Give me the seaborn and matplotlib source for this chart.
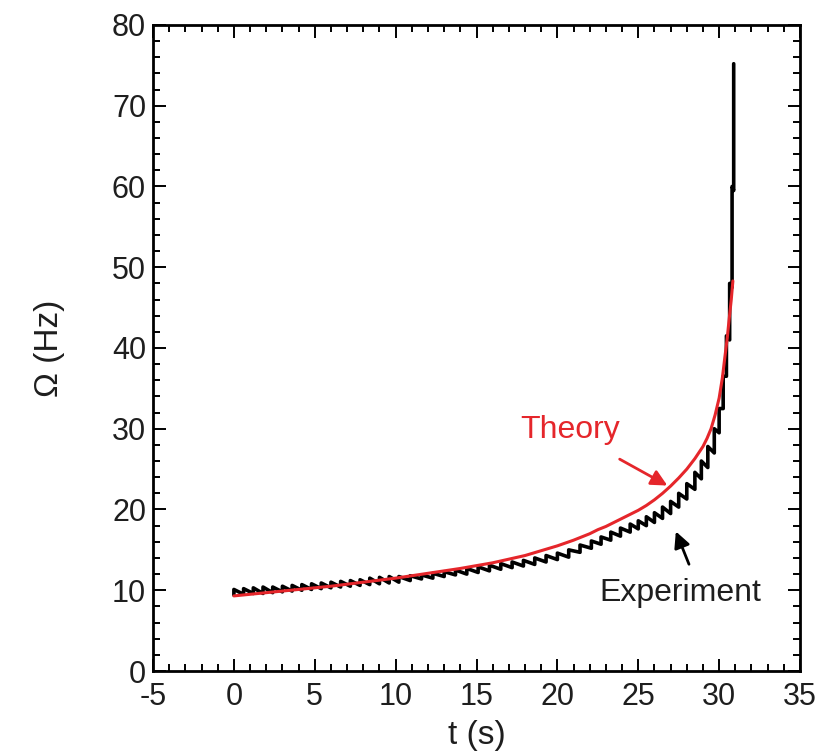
import matplotlib
matplotlib.use("Agg")
import matplotlib.pyplot as plt
import numpy as np
import pandas as pd
import seaborn as sns
from matplotlib.ticker import MultipleLocator

# theory curve
theory_t = [0, 2, 4, 6, 8, 10, 12, 14, 16, 18, 19, 20, 21, 22, 22.5, 23, 23.5,
            24, 24.5, 25, 25.5, 26, 26.5, 27, 27.5, 28, 28.5, 29, 29.25, 29.5,
            29.75, 30, 30.2, 30.35, 30.5, 30.6, 30.75, 30.85]
theory_omega = [9.3, 9.7, 10.1, 10.5, 11.0, 11.5, 12.1, 12.7, 13.4, 14.3, 14.9,
                15.5, 16.2, 17.0, 17.5, 17.9, 18.4, 18.9, 19.4, 19.9, 20.5,
                21.2, 22.0, 22.9, 23.9, 25.0, 26.3, 27.8, 28.8, 30.0, 31.7,
                33.8, 36.3, 38.8, 41.2, 43.2, 46.0, 48.3]

# experiment: sawtooth, jump times with level before and after each jump
exp_t = [0.0, 0.6, 1.2, 1.8, 2.4, 3.0, 3.6, 4.2, 4.8, 5.4, 6.0, 6.6, 7.2, 7.8,
         8.4, 9.0, 9.6, 10.2, 10.9, 11.6, 12.3, 13.0, 13.7, 14.4, 15.1, 15.8,
         16.5, 17.2, 17.9, 18.6, 19.3, 20.0, 20.7, 21.4, 22.1, 22.7, 23.3,
         23.9, 24.5, 25.0, 25.5, 26.0, 26.5, 27.0, 27.5, 28.0, 28.5, 28.9,
         29.3, 29.7, 30.0, 30.25, 30.45, 30.65, 30.8, 30.9]
exp_low = [9.4, 9.5, 9.6, 9.6, 9.7, 9.8, 9.9, 10.0, 10.1, 10.2, 10.3, 10.4,
           10.5, 10.6, 10.7, 10.8, 10.9, 11.0, 11.2, 11.4, 11.5, 11.7, 11.9,
           12.0, 12.2, 12.4, 12.6, 12.8, 13.0, 13.2, 13.5, 13.8, 14.1, 14.7,
           15.2, 15.7, 16.2, 16.7, 17.2, 17.6, 18.0, 18.4, 18.9, 19.5, 20.3,
           21.3, 22.5, 23.8, 25.2, 27.0, 29.5, 32.5, 36.5, 41.0, 47.5, 59.5]
exp_high = [10.1, 10.2, 10.3, 10.4, 10.4, 10.5, 10.6, 10.7, 10.8, 10.9, 11.0,
            11.1, 11.2, 11.3, 11.5, 11.6, 11.7, 11.7, 11.8, 11.9, 12.1, 12.3,
            12.5, 12.7, 12.9, 13.1, 13.3, 13.5, 13.7, 14.0, 14.3, 14.6, 15.0,
            15.6, 16.1, 16.6, 17.2, 17.7, 18.2, 18.6, 19.1, 19.6, 20.3, 21.0,
            22.0, 23.2, 24.6, 26.0, 27.8, 30.0, 32.5, 36.5, 41.5, 48.0, 60.0,
            75.2]

x_ticks = [-5, 0, 5, 10, 15, 20, 25, 30, 35]
y_ticks = [0, 10, 20, 30, 40, 50, 60, 70, 80]

RED = "#e5262b"
INK = "#1e1e1e"

# interleave the jumps into one polyline
saw_t, saw_w = [], []
for t, lo, hi in zip(exp_t, exp_low, exp_high):
    saw_t += [t, t]
    saw_w += [lo, hi]
experiment = pd.DataFrame({"t": saw_t, "omega": saw_w})
theory = pd.DataFrame({"t": theory_t, "omega": theory_omega})

sns.set_theme(style="ticks")
plt.rcParams["font.family"] = ["Liberation Sans", "DejaVu Sans"]
plt.rcParams["axes.unicode_minus"] = False

fig = plt.figure(figsize=(8.28, 7.52), dpi=100)
ax = fig.add_axes([0.1848, 0.1077, 0.7814, 0.8591])

sns.lineplot(data=experiment, x="t", y="omega", sort=False, estimator=None,
             color="black", lw=2.6, ax=ax)
sns.lineplot(data=theory, x="t", y="omega", sort=False, estimator=None,
             color=RED, lw=2.2, ax=ax)

ax.set_xlim(-5, 35)
ax.set_ylim(0, 80)
ax.set_xticks(x_ticks)
ax.set_yticks(y_ticks)
ax.xaxis.set_minor_locator(MultipleLocator(1))
ax.yaxis.set_minor_locator(MultipleLocator(2))
ax.tick_params(which="both", direction="in", top=True, right=True, width=1.4,
               color="black", labelsize=22, labelcolor=INK)
ax.tick_params(which="major", length=9)
ax.tick_params(axis="y", which="major", pad=5)
ax.tick_params(axis="x", which="major", pad=8)
ax.tick_params(which="minor", length=5)
for side in ax.spines.values():
    side.set_linewidth(2)
    side.set_color("black")

ax.set_xlabel("t (s)", fontsize=24, color=INK, labelpad=6)
ax.set_ylabel("Ω (Hz)", fontsize=24, color=INK, labelpad=34)

ax.annotate("", xy=(26.95, 22.8), xytext=(23.7, 26.4),
            arrowprops=dict(arrowstyle="-|>", color=RED, lw=2,
                            mutation_scale=24))
ax.text(20.8, 29.8, "Theory", color=RED, fontsize=23, ha="center", va="center")
ax.annotate("", xy=(27.26, 17.6), xytext=(28.2, 12.9),
            arrowprops=dict(arrowstyle="-|>", color="black", lw=2,
                            mutation_scale=24))
ax.text(27.6, 9.7, "Experiment", color=INK, fontsize=23,
        ha="center", va="center")

fig.savefig("out.png", dpi=100)
